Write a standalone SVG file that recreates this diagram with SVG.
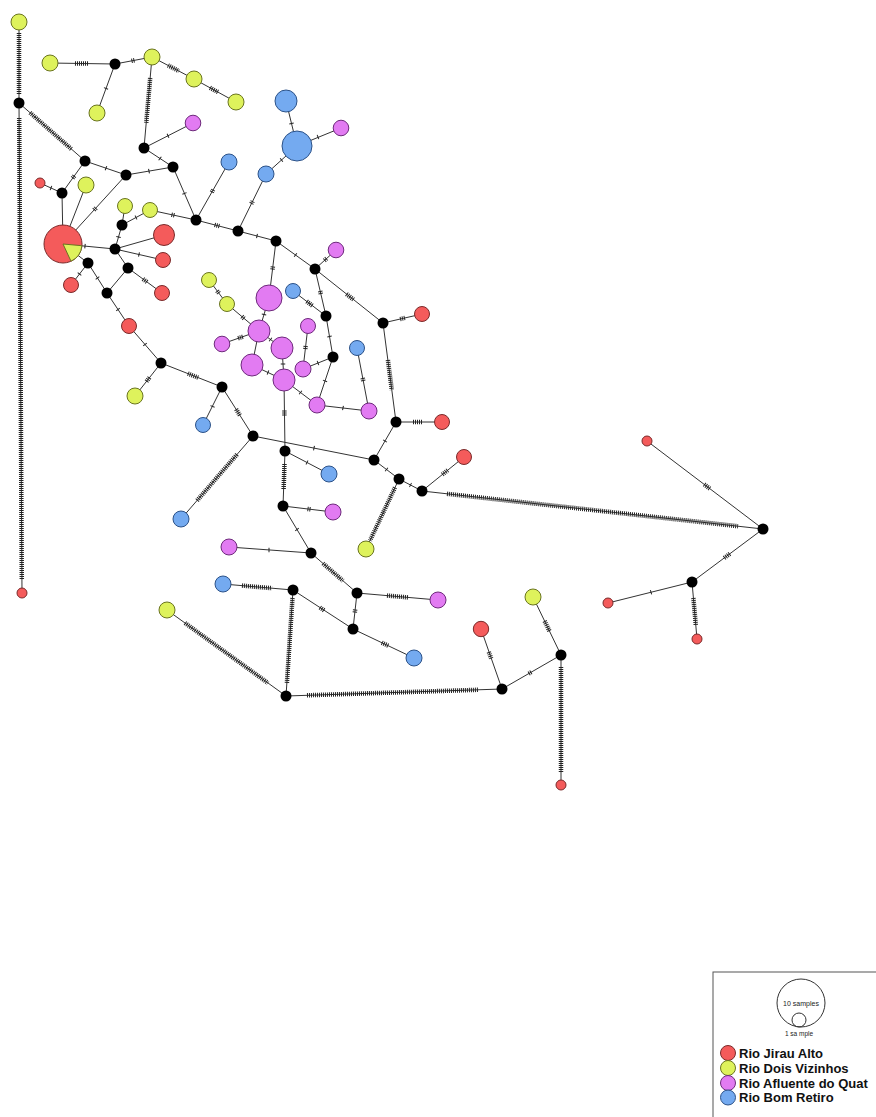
<svg xmlns="http://www.w3.org/2000/svg" width="876" height="1117" viewBox="0 0 876 1117">
<style>
.e{stroke:#333;stroke-width:1;fill:none}
.h{stroke:#222;stroke-width:4.5;stroke-dasharray:1 1;fill:none}
.m{fill:#000}
.R{fill:#F45B5B;stroke:#7a2a2a;stroke-width:1}
.Y{fill:#DEF25C;stroke:#6a7420;stroke-width:1}
.P{fill:#E27BF2;stroke:#6e2a7c;stroke-width:1}
.B{fill:#74AAF0;stroke:#2c5288;stroke-width:1}
.lt{font-family:"Liberation Sans",Arial,sans-serif;font-weight:bold;font-size:13px;fill:#111}
.st{font-family:"Liberation Sans",Arial,sans-serif;fill:#222;text-anchor:middle}
</style>
<rect width="876" height="1117" fill="#fff"/>
<g id="connectors">
<line class="e" x1="19" y1="22" x2="19" y2="103"/><line class="h" x1="19" y1="33" x2="19" y2="95"/>
<line class="e" x1="19" y1="103" x2="22" y2="593"/><line class="h" x1="19.2" y1="118" x2="21.8" y2="580"/>
<line class="e" x1="19" y1="103" x2="85" y2="161"/><line class="h" x1="30" y1="112.7" x2="72" y2="149.6"/>
<line class="e" x1="50" y1="63" x2="115" y2="64"/><line class="h" x1="75" y1="63.4" x2="88" y2="63.6"/>
<line class="e" x1="115" y1="64" x2="152" y2="57"/><line class="h" x1="131.5" y1="60.9" x2="134.5" y2="60.3"/>
<line class="e" x1="115" y1="64" x2="97" y2="113"/><line class="h" x1="106.2" y1="88" x2="105.8" y2="89"/>
<line class="e" x1="152" y1="57" x2="194" y2="79"/><line class="h" x1="168" y1="65.4" x2="179" y2="71.1"/>
<line class="e" x1="194" y1="79" x2="236" y2="102"/><line class="h" x1="210" y1="87.8" x2="218" y2="92.1"/>
<line class="e" x1="152" y1="57" x2="144" y2="148"/><line class="h" x1="150.2" y1="78" x2="146.2" y2="123"/>
<line class="e" x1="144" y1="148" x2="193" y2="123"/><line class="h" x1="167.55" y1="136" x2="168.45" y2="135.6"/>
<line class="e" x1="144" y1="148" x2="173" y2="167"/><line class="h" x1="159.6" y1="158.2" x2="160.4" y2="158.8"/>
<line class="e" x1="85" y1="161" x2="126" y2="175"/><line class="h" x1="105.5" y1="168" x2="106.5" y2="168.4"/>
<line class="e" x1="126" y1="175" x2="173" y2="167"/><line class="h" x1="148.5" y1="171.2" x2="149.5" y2="171"/>
<line class="e" x1="85" y1="161" x2="62" y2="193"/><line class="h" x1="74.4" y1="175.8" x2="72.6" y2="178.2"/>
<line class="e" x1="40" y1="183" x2="62" y2="193"/><line class="h" x1="50.5" y1="187.8" x2="51.5" y2="188.2"/>
<line class="e" x1="62" y1="193" x2="63" y2="244"/>
<line class="e" x1="63" y1="244" x2="86" y2="185"/>
<line class="e" x1="63" y1="244" x2="126" y2="175"/><line class="h" x1="94" y1="210.1" x2="96" y2="207.9"/>
<line class="e" x1="63" y1="244" x2="115" y2="249"/><line class="h" x1="84.5" y1="246.1" x2="85.5" y2="246.2"/>
<line class="e" x1="115" y1="249" x2="122" y2="225"/><line class="h" x1="118.4" y1="237.5" x2="118.6" y2="236.5"/>
<line class="e" x1="122" y1="225" x2="125" y2="206"/>
<line class="e" x1="122" y1="225" x2="150" y2="210"/><line class="h" x1="135.6" y1="217.7" x2="136.4" y2="217.3"/>
<line class="e" x1="115" y1="249" x2="164" y2="235"/>
<line class="e" x1="115" y1="249" x2="163" y2="260"/><line class="h" x1="138.5" y1="254.4" x2="139.5" y2="254.6"/>
<line class="e" x1="115" y1="249" x2="128" y2="268"/>
<line class="e" x1="128" y1="268" x2="162" y2="293"/><line class="h" x1="143" y1="279" x2="147" y2="282"/>
<line class="e" x1="128" y1="268" x2="107" y2="293"/>
<line class="e" x1="63" y1="244" x2="88" y2="263"/>
<line class="e" x1="88" y1="263" x2="71" y2="285"/><line class="h" x1="79.8" y1="273.6" x2="79.2" y2="274.4"/>
<line class="e" x1="88" y1="263" x2="107" y2="293"/><line class="h" x1="97.2" y1="277.6" x2="97.8" y2="278.4"/>
<line class="e" x1="107" y1="293" x2="129" y2="326"/><line class="h" x1="117.7" y1="309.1" x2="118.3" y2="309.9"/>
<line class="e" x1="129" y1="326" x2="161" y2="363"/><line class="h" x1="144.7" y1="344.1" x2="145.3" y2="344.9"/>
<line class="e" x1="173" y1="167" x2="196" y2="220"/><line class="h" x1="184.3" y1="193" x2="184.7" y2="194"/>
<line class="e" x1="150" y1="210" x2="196" y2="220"/><line class="h" x1="171.5" y1="214.7" x2="174.5" y2="215.3"/>
<line class="e" x1="196" y1="220" x2="229" y2="162"/><line class="h" x1="211.8" y1="192.3" x2="213.2" y2="189.7"/>
<line class="e" x1="196" y1="220" x2="238" y2="231"/><line class="h" x1="214.6" y1="224.9" x2="219.4" y2="226.1"/>
<line class="e" x1="238" y1="231" x2="266" y2="174"/><line class="h" x1="251.3" y1="203.8" x2="252.7" y2="201.2"/>
<line class="e" x1="266" y1="174" x2="297" y2="146"/><line class="h" x1="281.1" y1="160.3" x2="281.9" y2="159.7"/>
<line class="e" x1="297" y1="146" x2="286" y2="101"/><line class="h" x1="291.6" y1="124" x2="291.4" y2="123"/>
<line class="e" x1="297" y1="146" x2="341" y2="128"/><line class="h" x1="317.5" y1="137.2" x2="318.5" y2="136.8"/>
<line class="e" x1="238" y1="231" x2="276" y2="241"/><line class="h" x1="256.5" y1="235.9" x2="257.5" y2="236.1"/>
<line class="e" x1="276" y1="241" x2="315" y2="269"/><line class="h" x1="295.1" y1="254.7" x2="295.9" y2="255.3"/>
<line class="e" x1="315" y1="269" x2="336" y2="250"/><line class="h" x1="324.4" y1="260.5" x2="326.6" y2="258.5"/>
<line class="e" x1="276" y1="241" x2="269" y2="298"/><line class="h" x1="272.9" y1="266.5" x2="272.5" y2="269.5"/>
<line class="e" x1="315" y1="269" x2="326" y2="316"/><line class="h" x1="320.2" y1="291" x2="320.8" y2="294"/>
<line class="e" x1="315" y1="269" x2="383" y2="323"/><line class="h" x1="346.5" y1="294" x2="353.5" y2="299.6"/>
<line class="e" x1="383" y1="323" x2="422" y2="314"/><line class="h" x1="400.1" y1="319.1" x2="404.9" y2="317.9"/>
<line class="e" x1="383" y1="323" x2="396" y2="422"/><line class="h" x1="387.9" y1="360" x2="391.8" y2="390"/>
<line class="e" x1="396" y1="422" x2="442" y2="422"/><line class="h" x1="413" y1="422" x2="423" y2="422"/>
<line class="e" x1="396" y1="422" x2="374" y2="460"/><line class="h" x1="385.25" y1="440.6" x2="384.75" y2="441.4"/>
<line class="e" x1="209" y1="280" x2="227" y2="304"/><line class="h" x1="217.1" y1="290.8" x2="218.9" y2="293.2"/>
<line class="e" x1="227" y1="304" x2="259" y2="331"/><line class="h" x1="241.9" y1="316.5" x2="244.1" y2="318.5"/>
<line class="e" x1="269" y1="298" x2="259" y2="331"/><line class="h" x1="264.1" y1="314" x2="263.9" y2="315"/>
<line class="e" x1="293" y1="291" x2="326" y2="316"/><line class="h" x1="306.7" y1="301.4" x2="312.3" y2="305.6"/>
<line class="e" x1="326" y1="316" x2="333" y2="357"/><line class="h" x1="329.4" y1="336" x2="329.6" y2="337"/>
<line class="e" x1="222" y1="344" x2="259" y2="331"/><line class="h" x1="238.1" y1="338.3" x2="242.9" y2="336.7"/>
<line class="e" x1="259" y1="331" x2="282" y2="348"/><line class="h" x1="270.1" y1="339.2" x2="270.9" y2="339.8"/>
<line class="e" x1="259" y1="331" x2="252" y2="365"/>
<line class="e" x1="252" y1="365" x2="284" y2="380"/><line class="h" x1="267.5" y1="372.3" x2="268.5" y2="372.7"/>
<line class="e" x1="282" y1="348" x2="284" y2="380"/><line class="h" x1="283" y1="363.5" x2="283" y2="364.5"/>
<line class="e" x1="308" y1="326" x2="303" y2="369"/><line class="h" x1="305.7" y1="346" x2="305.3" y2="349"/>
<line class="e" x1="303" y1="369" x2="333" y2="357"/><line class="h" x1="317.5" y1="363.2" x2="318.5" y2="362.8"/>
<line class="e" x1="284" y1="380" x2="317" y2="405"/><line class="h" x1="300.1" y1="392.2" x2="300.9" y2="392.8"/>
<line class="e" x1="333" y1="357" x2="317" y2="405"/><line class="h" x1="325.2" y1="380.5" x2="324.8" y2="381.5"/>
<line class="e" x1="317" y1="405" x2="369" y2="411"/><line class="h" x1="342.5" y1="407.9" x2="343.5" y2="408.1"/>
<line class="e" x1="357" y1="348" x2="369" y2="411"/><line class="h" x1="362.7" y1="378" x2="363.3" y2="381"/>
<line class="e" x1="284" y1="380" x2="285" y2="451"/><line class="h" x1="284.4" y1="410.5" x2="284.4" y2="415.5"/>
<line class="e" x1="161" y1="363" x2="135" y2="396"/><line class="h" x1="149.5" y1="377.5" x2="146.5" y2="381.5"/>
<line class="e" x1="161" y1="363" x2="222" y2="387"/><line class="h" x1="187.9" y1="373.6" x2="198.1" y2="377.6"/>
<line class="e" x1="222" y1="387" x2="203" y2="425"/><line class="h" x1="212.7" y1="406" x2="212.3" y2="407"/>
<line class="e" x1="222" y1="387" x2="253" y2="436"/><line class="h" x1="236.1" y1="409.3" x2="239.9" y2="415.3"/>
<line class="e" x1="253" y1="436" x2="181" y2="519"/><line class="h" x1="237" y1="454.4" x2="197" y2="500.6"/>
<line class="e" x1="253" y1="436" x2="374" y2="460"/><line class="h" x1="313.5" y1="448" x2="314.5" y2="448.2"/>
<line class="e" x1="285" y1="451" x2="329" y2="474"/><line class="h" x1="306.6" y1="462.3" x2="307.4" y2="462.7"/>
<line class="e" x1="285" y1="451" x2="283" y2="506"/><line class="h" x1="284.5" y1="464" x2="283.6" y2="490"/>
<line class="e" x1="283" y1="506" x2="333" y2="512"/><line class="h" x1="307.5" y1="508.9" x2="310.5" y2="509.3"/>
<line class="e" x1="283" y1="506" x2="311" y2="553"/><line class="h" x1="296.7" y1="529.1" x2="297.3" y2="529.9"/>
<line class="e" x1="374" y1="460" x2="399" y2="479"/><line class="h" x1="386.1" y1="469.2" x2="386.9" y2="469.8"/>
<line class="e" x1="399" y1="479" x2="422" y2="491"/><line class="h" x1="410.1" y1="484.8" x2="410.9" y2="485.2"/>
<line class="e" x1="422" y1="491" x2="464" y2="457"/><line class="h" x1="442.3" y1="474.6" x2="447.7" y2="470.2"/>
<line class="e" x1="422" y1="491" x2="763" y2="529"/><line class="h" x1="447" y1="493.8" x2="738" y2="526.2"/>
<line class="e" x1="399" y1="479" x2="366" y2="549"/><line class="h" x1="395" y1="487.5" x2="370" y2="540.5"/>
<line class="e" x1="763" y1="529" x2="647" y2="441"/><line class="h" x1="709.8" y1="488.6" x2="704.2" y2="484.4"/>
<line class="e" x1="763" y1="529" x2="692" y2="582"/><line class="h" x1="729.8" y1="553.8" x2="724.2" y2="558"/>
<line class="e" x1="692" y1="582" x2="608" y2="603"/><line class="h" x1="651.5" y1="592.1" x2="650.5" y2="592.4"/>
<line class="e" x1="692" y1="582" x2="697" y2="639"/><line class="h" x1="693.4" y1="598" x2="695.8" y2="625"/>
<line class="e" x1="229" y1="547" x2="311" y2="553"/><line class="h" x1="268.5" y1="550" x2="269.5" y2="550"/>
<line class="e" x1="311" y1="553" x2="357" y2="593"/><line class="h" x1="323" y1="563.4" x2="343" y2="580.8"/>
<line class="e" x1="357" y1="593" x2="438" y2="600"/><line class="h" x1="387" y1="595.6" x2="408" y2="597.4"/>
<line class="e" x1="357" y1="593" x2="353" y2="629"/><line class="h" x1="355.2" y1="609.5" x2="354.8" y2="612.5"/>
<line class="e" x1="293" y1="590" x2="353" y2="629"/><line class="h" x1="319.9" y1="607.5" x2="324.1" y2="610.3"/>
<line class="e" x1="353" y1="629" x2="414" y2="658"/><line class="h" x1="381.8" y1="642.7" x2="388.2" y2="645.7"/>
<line class="e" x1="223" y1="584" x2="293" y2="590"/><line class="h" x1="242" y1="585.6" x2="272" y2="588.2"/>
<line class="e" x1="293" y1="590" x2="286" y2="696"/><line class="h" x1="292.5" y1="598" x2="286.9" y2="683"/>
<line class="e" x1="167" y1="610" x2="286" y2="696"/><line class="h" x1="185" y1="623" x2="268" y2="683"/>
<line class="e" x1="286" y1="696" x2="502" y2="689"/><line class="h" x1="307" y1="695.3" x2="478" y2="689.8"/>
<line class="e" x1="502" y1="689" x2="481" y2="629"/><line class="h" x1="491.2" y1="658.6" x2="488.8" y2="652"/>
<line class="e" x1="502" y1="689" x2="561" y2="655"/><line class="h" x1="528.7" y1="673.6" x2="531.3" y2="672.1"/>
<line class="e" x1="561" y1="655" x2="533" y2="597"/><line class="h" x1="549.4" y1="631" x2="544.6" y2="621"/>
<line class="e" x1="561" y1="655" x2="561" y2="785"/><line class="h" x1="561" y1="667" x2="561" y2="773"/>
</g>
<g id="medians">
<circle id="m1" class="m" cx="19" cy="103" r="5.5"/>
<circle id="m2" class="m" cx="115" cy="64" r="5.5"/>
<circle id="m3" class="m" cx="144" cy="148" r="5.5"/>
<circle id="m4" class="m" cx="85" cy="161" r="5.5"/>
<circle id="m5" class="m" cx="173" cy="167" r="5.5"/>
<circle id="m6" class="m" cx="126" cy="175" r="5.5"/>
<circle id="m7" class="m" cx="62" cy="193" r="5.5"/>
<circle id="m8" class="m" cx="115" cy="249" r="5.5"/>
<circle id="m9" class="m" cx="122" cy="225" r="5.5"/>
<circle id="m10" class="m" cx="128" cy="268" r="5.5"/>
<circle id="m11" class="m" cx="88" cy="263" r="5.5"/>
<circle id="m12" class="m" cx="107" cy="293" r="5.5"/>
<circle id="m13" class="m" cx="196" cy="220" r="5.5"/>
<circle id="m14" class="m" cx="238" cy="231" r="5.5"/>
<circle id="m15" class="m" cx="276" cy="241" r="5.5"/>
<circle id="m16" class="m" cx="315" cy="269" r="5.5"/>
<circle id="m17" class="m" cx="326" cy="316" r="5.5"/>
<circle id="m18" class="m" cx="383" cy="323" r="5.5"/>
<circle id="m19" class="m" cx="333" cy="357" r="5.5"/>
<circle id="m20" class="m" cx="396" cy="422" r="5.5"/>
<circle id="m21" class="m" cx="161" cy="363" r="5.5"/>
<circle id="m22" class="m" cx="222" cy="387" r="5.5"/>
<circle id="m23" class="m" cx="253" cy="436" r="5.5"/>
<circle id="m24" class="m" cx="285" cy="451" r="5.5"/>
<circle id="m25" class="m" cx="283" cy="506" r="5.5"/>
<circle id="m26" class="m" cx="374" cy="460" r="5.5"/>
<circle id="m27" class="m" cx="399" cy="479" r="5.5"/>
<circle id="m28" class="m" cx="422" cy="491" r="5.5"/>
<circle id="m29" class="m" cx="763" cy="529" r="5.5"/>
<circle id="m30" class="m" cx="692" cy="582" r="5.5"/>
<circle id="m31" class="m" cx="311" cy="553" r="5.5"/>
<circle id="m32" class="m" cx="357" cy="593" r="5.5"/>
<circle id="m33" class="m" cx="293" cy="590" r="5.5"/>
<circle id="m34" class="m" cx="353" cy="629" r="5.5"/>
<circle id="m35" class="m" cx="286" cy="696" r="5.5"/>
<circle id="m36" class="m" cx="502" cy="689" r="5.5"/>
<circle id="m37" class="m" cx="561" cy="655" r="5.5"/>
</g>
<g id="haplotypes">
<g id="r1"><circle class="R" cx="63" cy="244" r="19"/><path d="M63,244 L81.9,245.7 A19,19 0 0 1 71,261.2 Z" fill="#DEF25C" stroke="#6a7420" stroke-width="1"/></g>
<g id="r2"><circle class="R" cx="40" cy="183" r="5"/></g>
<g id="r3"><circle class="R" cx="164" cy="235" r="10.5"/></g>
<g id="r4"><circle class="R" cx="163" cy="260" r="7.5"/></g>
<g id="r5"><circle class="R" cx="162" cy="293" r="7.5"/></g>
<g id="r6"><circle class="R" cx="71" cy="285" r="7.5"/></g>
<g id="r7"><circle class="R" cx="129" cy="326" r="7.5"/></g>
<g id="r8"><circle class="R" cx="422" cy="314" r="7.5"/></g>
<g id="r9"><circle class="R" cx="442" cy="422" r="7.5"/></g>
<g id="r10"><circle class="R" cx="464" cy="457" r="7.5"/></g>
<g id="r11"><circle class="R" cx="647" cy="441" r="5"/></g>
<g id="r12"><circle class="R" cx="608" cy="603" r="5"/></g>
<g id="r13"><circle class="R" cx="697" cy="639" r="5"/></g>
<g id="r14"><circle class="R" cx="481" cy="629" r="7.7"/></g>
<g id="r15"><circle class="R" cx="561" cy="785" r="5"/></g>
<g id="r16"><circle class="R" cx="22" cy="593" r="5"/></g>
<g id="y1"><circle class="Y" cx="19" cy="22" r="8"/></g>
<g id="y2"><circle class="Y" cx="50" cy="63" r="8"/></g>
<g id="y3"><circle class="Y" cx="152" cy="57" r="8"/></g>
<g id="y4"><circle class="Y" cx="194" cy="79" r="8"/></g>
<g id="y5"><circle class="Y" cx="236" cy="102" r="8"/></g>
<g id="y6"><circle class="Y" cx="97" cy="113" r="8"/></g>
<g id="y7"><circle class="Y" cx="86" cy="185" r="8"/></g>
<g id="y8"><circle class="Y" cx="125" cy="206" r="7.5"/></g>
<g id="y9"><circle class="Y" cx="150" cy="210" r="7.5"/></g>
<g id="y10"><circle class="Y" cx="209" cy="280" r="7.5"/></g>
<g id="y11"><circle class="Y" cx="227" cy="304" r="7.5"/></g>
<g id="y12"><circle class="Y" cx="135" cy="396" r="8"/></g>
<g id="y13"><circle class="Y" cx="366" cy="549" r="8"/></g>
<g id="y14"><circle class="Y" cx="533" cy="597" r="8"/></g>
<g id="y15"><circle class="Y" cx="167" cy="610" r="8"/></g>
<g id="p1"><circle class="P" cx="193" cy="123" r="7.8"/></g>
<g id="p2"><circle class="P" cx="341" cy="128" r="7.8"/></g>
<g id="p3"><circle class="P" cx="336" cy="250" r="7.8"/></g>
<g id="p4"><circle class="P" cx="269" cy="298" r="13"/></g>
<g id="p5"><circle class="P" cx="259" cy="331" r="11"/></g>
<g id="p6"><circle class="P" cx="222" cy="344" r="7.8"/></g>
<g id="p7"><circle class="P" cx="282" cy="348" r="11"/></g>
<g id="p8"><circle class="P" cx="308" cy="326" r="7.5"/></g>
<g id="p9"><circle class="P" cx="252" cy="365" r="11"/></g>
<g id="p10"><circle class="P" cx="303" cy="369" r="8"/></g>
<g id="p11"><circle class="P" cx="284" cy="380" r="11"/></g>
<g id="p12"><circle class="P" cx="317" cy="405" r="8"/></g>
<g id="p13"><circle class="P" cx="369" cy="411" r="8"/></g>
<g id="p14"><circle class="P" cx="333" cy="512" r="8"/></g>
<g id="p15"><circle class="P" cx="229" cy="547" r="8"/></g>
<g id="p16"><circle class="P" cx="438" cy="600" r="8"/></g>
<g id="b1"><circle class="B" cx="286" cy="101" r="11"/></g>
<g id="b2"><circle class="B" cx="297" cy="146" r="15"/></g>
<g id="b3"><circle class="B" cx="266" cy="174" r="8"/></g>
<g id="b4"><circle class="B" cx="229" cy="162" r="8"/></g>
<g id="b5"><circle class="B" cx="293" cy="291" r="7.5"/></g>
<g id="b6"><circle class="B" cx="357" cy="348" r="7.5"/></g>
<g id="b7"><circle class="B" cx="203" cy="425" r="7.5"/></g>
<g id="b8"><circle class="B" cx="181" cy="519" r="8"/></g>
<g id="b9"><circle class="B" cx="329" cy="474" r="8"/></g>
<g id="b10"><circle class="B" cx="223" cy="584" r="8"/></g>
<g id="b11"><circle class="B" cx="414" cy="658" r="8"/></g>
</g>
<g id="legend">
<rect x="713" y="972" width="200" height="160" fill="#fff" stroke="#555" stroke-width="1"/>
<circle cx="801" cy="1003" r="24" fill="none" stroke="#333" stroke-width="1"/>
<circle cx="799" cy="1020" r="7" fill="none" stroke="#333" stroke-width="1"/>
<text class="st" x="801" y="1005.5" font-size="7">10 samples</text>
<text class="st" x="799" y="1036" font-size="6.5">1 sa mple</text>
<circle class="R" cx="728" cy="1053" r="7.5"/>
<circle class="Y" cx="728" cy="1068" r="7.5"/>
<circle class="P" cx="728" cy="1083" r="7.5"/>
<circle class="B" cx="728" cy="1097.5" r="7.5"/>
<text class="lt" x="739" y="1057.5">Rio Jirau Alto</text>
<text class="lt" x="739" y="1072.5">Rio Dois Vizinhos</text>
<text class="lt" x="739" y="1087.5">Rio Afluente do Quat</text>
<text class="lt" x="739" y="1102">Rio Bom Retiro</text>
</g>
</svg>
